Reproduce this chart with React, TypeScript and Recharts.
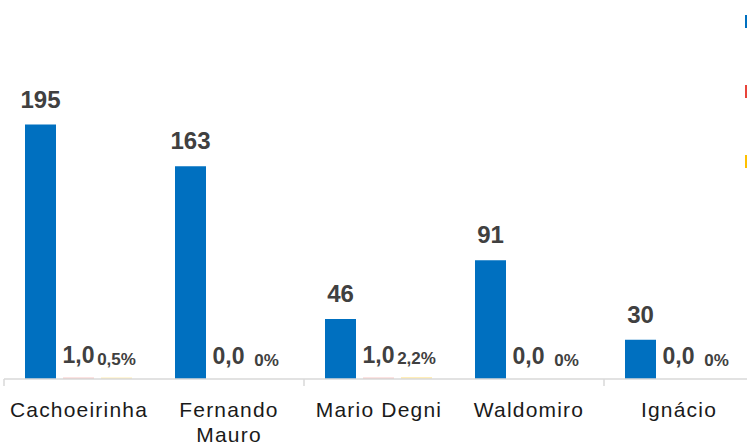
import React from "react";
import { BarChart, Bar, XAxis, YAxis, LabelList, Legend } from "recharts";

const bairros = ["Cachoeirinha", "Fernando Mauro", "Mario Degni", "Waldomiro", "Ignácio"];
const casos = [195, 163, 46, 91, 30];
const taxa = [1.0, 0.0, 1.0, 0.0, 0.0];
const percentual = [0.5, 0, 2.2, 0, 0];
const seriesNames = ["Casos", "Taxa", "%"];

const data = bairros.map((nome, i) => ({
  nome,
  casos: casos[i],
  taxa: taxa[i],
  percentual: percentual[i],
}));

const BLUE = "#0070C0";
const RED = "#E8443A";
const YELLOW = "#FFC000";
const FONT = "'Liberation Sans', Arial, sans-serif";

const fmtNum = (v: any) => Number(v).toFixed(1).replace(".", ",");
const fmtPct = (v: any) => `${String(v).replace(".", ",")}%`;
// zero bars keep a hairline so their labels still get drawn
const smallMin = (v: any) => (Number(v) > 0 ? 1.5 : 0.05);

function CategoryTick(props: any) {
  const { x, y, payload, index } = props;
  const label: string = payload.value;
  const lines = label.length > 12 ? label.split(" ") : [label];
  return (
    <g>
      {index % 2 === 0 && (
        <line x1={x - 75} x2={x - 75} y1={y - 8} y2={y - 1} stroke="#d9d9d9" strokeWidth={1.5} />
      )}
      <text
        x={x}
        y={y + 30}
        textAnchor="middle"
        fontSize={21}
        letterSpacing={1.2}
        fontFamily={FONT}
        fill="#1a1a1a"
      >
        {lines.map((ln, i) => (
          <tspan key={ln} x={x} dy={i === 0 ? 0 : 25}>
            {ln}
          </tspan>
        ))}
      </text>
    </g>
  );
}

// only the colour marks of the legend show at the clipped right edge
function LegendMarks(props: any) {
  const items = [...(props.payload || [])].sort(
    (a: any, b: any) => seriesNames.indexOf(a.value) - seriesNames.indexOf(b.value)
  );
  return (
    <div style={{ width: 150 }}>
      {items.map((it: any) => (
        <div key={it.value} title={it.value} style={{ display: "flex", alignItems: "center", height: 70 }}>
          <span style={{ display: "inline-block", width: 10, height: 13, background: it.color }} />
        </div>
      ))}
    </div>
  );
}

export default function App() {
  return (
    <div style={{ position: "fixed", left: 0, top: 0, width: 747, height: 448, overflow: "hidden", background: "#fff" }}>
      <BarChart
        width={904}
        height={448}
        data={data}
        margin={{ top: 118, right: 0, left: 4, bottom: 9 }}
        barCategoryGap="14%"
        barGap={7}
      >
        <XAxis
          dataKey="nome"
          height={60}
          interval={0}
          axisLine={{ stroke: "#d9d9d9", strokeWidth: 1.5 }}
          tickLine={false}
          tick={<CategoryTick />}
        />
        <YAxis yAxisId="left" hide domain={[0, 200]} />
        <YAxis yAxisId="pct" hide domain={[0, 300]} orientation="right" />
        <Legend
          layout="vertical"
          align="right"
          verticalAlign="top"
          content={<LegendMarks />}
          wrapperStyle={{ left: 745, top: -14, width: 150 }}
        />
        <Bar yAxisId="left" dataKey="casos" name="Casos" fill={BLUE} isAnimationActive={false}>
          <LabelList
            dataKey="casos"
            position="top"
            offset={17}
            fill="#404040"
            fontSize={24}
            fontWeight="bold"
            fontFamily={FONT}
          />
        </Bar>
        <Bar yAxisId="left" dataKey="taxa" name="Taxa" fill={RED} fillOpacity={0.3} minPointSize={smallMin} isAnimationActive={false}>
          <LabelList
            dataKey="taxa"
            position="top"
            offset={15}
            formatter={fmtNum}
            fill="#404040"
            fontSize={23}
            fontWeight="bold"
            fontFamily={FONT}
          />
        </Bar>
        <Bar yAxisId="pct" dataKey="percentual" name="%" fill={YELLOW} fillOpacity={0.3} minPointSize={smallMin} isAnimationActive={false}>
          <LabelList
            dataKey="percentual"
            position="top"
            offset={13}
            formatter={fmtPct}
            fill="#404040"
            fontSize={17}
            fontWeight="bold"
            fontFamily={FONT}
          />
        </Bar>
      </BarChart>
    </div>
  );
}
